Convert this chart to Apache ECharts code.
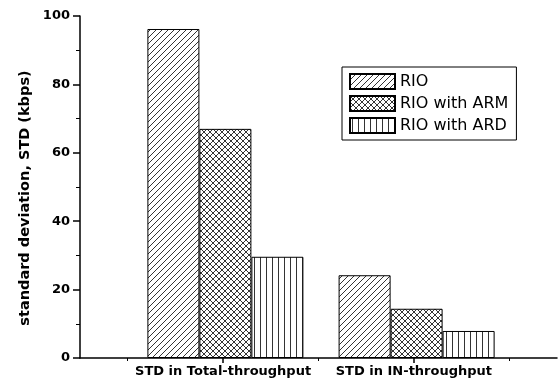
<!DOCTYPE html>
<html>
<head>
<meta charset="utf-8">
<script src="https://cdn.jsdelivr.net/npm/echarts@6/dist/echarts.min.js"></script>
<style>
  html, body { margin: 0; padding: 0; background: #fff; }
  #chart { width: 560px; height: 387px; }
</style>
</head>
<body>
<div id="chart"></div>
<script>
// x positions in steps of 0.25 from 0.25 to 2.75; groups sit at 1 and 2
var categories = ['', '', '', 'STD in Total-throughput', '', '', '', 'STD in IN-throughput', '', '', ''];
var seriesNames = ['RIO', 'RIO with ARM', 'RIO with ARD'];
var rioValues = ['-', '-', '-', 96.2, '-', '-', '-', 24.2, '-', '-', '-'];
var armValues = ['-', '-', '-', 67.0, '-', '-', '-', 14.4, '-', '-', '-'];
var ardValues = ['-', '-', '-', 29.6, '-', '-', '-', 7.9, '-', '-', '-'];
var yTicks = [0, 20, 40, 60, 80, 100];
var yTitle = 'standard deviation, STD (kbps)';

// hatch patterns drawn on small tiles
function makeTile(kind) {
  var s = 6;
  var c = document.createElement('canvas');
  c.width = s; c.height = s;
  var g = c.getContext('2d');
  g.fillStyle = '#fff';
  g.fillRect(0, 0, s, s);
  g.strokeStyle = '#000';
  g.lineWidth = 0.8;
  g.beginPath();
  if (kind === 'diag' || kind === 'cross') {
    g.moveTo(0, s); g.lineTo(s, 0);
    g.moveTo(-1, 1); g.lineTo(1, -1);
    g.moveTo(s - 1, s + 1); g.lineTo(s + 1, s - 1);
  }
  if (kind === 'cross') {
    g.moveTo(0, 0); g.lineTo(s, s);
    g.moveTo(s - 1, -1); g.lineTo(s + 1, 1);
    g.moveTo(-1, s - 1); g.lineTo(1, s + 1);
  }
  if (kind === 'vert') {
    g.moveTo(2.5, 0); g.lineTo(2.5, s);
  }
  g.stroke();
  return { image: c, repeat: 'repeat' };
}

var fills = [makeTile('diag'), makeTile('cross'), makeTile('vert')];
var values = [rioValues, armValues, ardValues];
var font = 'DejaVu Sans, Liberation Sans, sans-serif';

var myChart = echarts.init(document.getElementById('chart'));

// bars live on their own (hidden) grid so they line up with the ticks
var series = seriesNames.map(function (name, i) {
  return {
    name: name,
    type: 'bar',
    xAxisIndex: 2,
    yAxisIndex: 1,
    barWidth: 52,
    barGap: '0%',
    data: values[i],
    itemStyle: { color: fills[i], borderColor: '#000', borderWidth: 1 }
  };
});

var option = {
  animation: false,
  backgroundColor: '#fff',
  textStyle: { fontFamily: font },
  grid: [
    { left: 80, right: -1, top: 16, bottom: 29 },
    { left: 82, right: -4, top: 16, bottom: 29 }
  ],
  graphic: [{
    type: 'text',
    x: 25,
    y: 198,
    rotation: Math.PI / 2,
    style: {
      text: yTitle,
      font: 'bold 14.5px ' + font,
      fill: '#000',
      align: 'center',
      verticalAlign: 'middle'
    }
  }],
  legend: {
    orient: 'vertical',
    left: 342,
    top: 67,
    padding: [6, 8, 6, 7],
    icon: 'rect',
    itemWidth: 45,
    itemHeight: 15,
    itemGap: 5,
    borderColor: '#000',
    borderWidth: 1,
    textStyle: { fontSize: 16, lineHeight: 15, color: '#000' },
    data: seriesNames
  },
  xAxis: [{
    type: 'category',
    gridIndex: 0,
    position: 'bottom',
    boundaryGap: false,
    data: categories,
    axisLine: { lineStyle: { color: '#000', width: 1.5 } },
    axisTick: {
      length: 5,
      lineStyle: { color: '#000', width: 1.5 },
      interval: function (idx) { return idx === 3 || idx === 7; }
    },
    axisLabel: {
      interval: 0,
      margin: 7,
      fontSize: 13,
      fontWeight: 'bold',
      color: '#000'
    }
  }, {
    type: 'category',
    gridIndex: 0,
    position: 'bottom',
    boundaryGap: false,
    data: categories,
    axisLine: { show: false },
    axisTick: {
      length: 3,
      lineStyle: { color: '#000', width: 1 },
      interval: function (idx) { return idx === 1 || idx === 5 || idx === 9; }
    },
    axisLabel: { show: false }
  }, {
    type: 'category',
    gridIndex: 1,
    boundaryGap: false,
    data: categories,
    show: false
  }],
  yAxis: [{
    type: 'value',
    gridIndex: 0,
    min: yTicks[0],
    max: yTicks[yTicks.length - 1],
    interval: 20,
    axisLine: { show: true, lineStyle: { color: '#000', width: 1.5 } },
    axisTick: { show: true, length: 7, lineStyle: { color: '#000', width: 1.5 } },
    minorTick: { show: true, splitNumber: 2, length: 4, lineStyle: { color: '#000', width: 1 } },
    splitLine: { show: false },
    axisLabel: { fontSize: 13, fontWeight: 'bold', color: '#000', margin: 10 }
  }, {
    type: 'value',
    gridIndex: 1,
    min: yTicks[0],
    max: yTicks[yTicks.length - 1],
    show: false
  }],
  series: series
};

myChart.setOption(option);
</script>
</body>
</html>
